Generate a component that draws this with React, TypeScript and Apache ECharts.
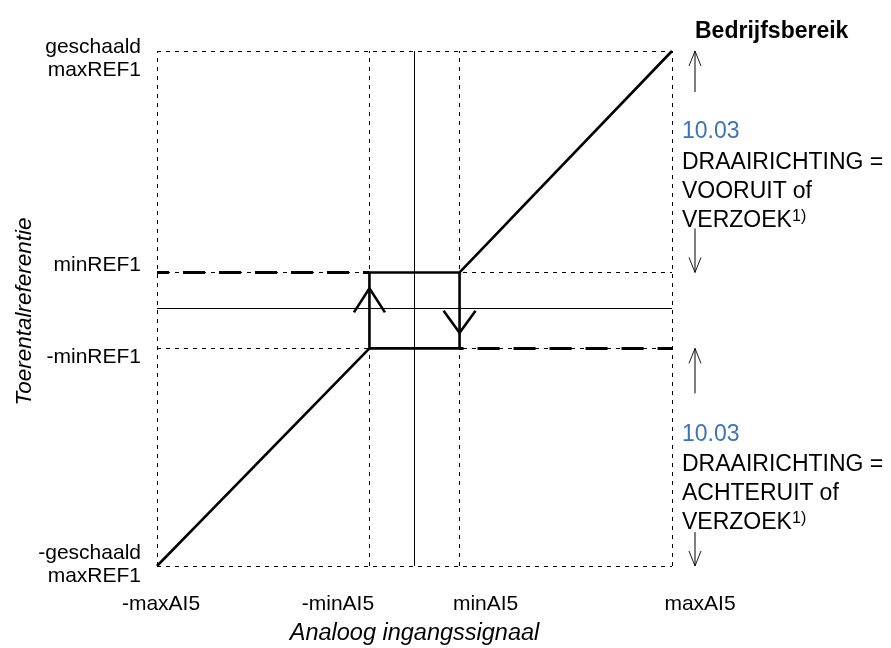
import React, { useEffect, useRef } from 'react';
import * as echarts from 'echarts';

// ---- data (normalised units: ±100 = maxAI5 / geschaald maxREF1) ----
const xTickValues = [-100, -17.5, 17.5, 100];
const xTickLabels = ['-maxAI5', '-minAI5', 'minAI5', 'maxAI5'];
const yTickValues = [-100, -15.5, 14, 100];
const yTickLabels = ['-geschaald\nmaxREF1', '-minREF1', 'minREF1', 'geschaald\nmaxREF1'];

// characteristic: upper branch (rising through the left of the hysteresis box)
const curveUpper = [[-100, -100], [-17.5, -15.5], [-17.5, 14], [17.5, 14], [100, 100]];
// characteristic: lower branch of the hysteresis box
const curveLower = [[17.5, 14], [17.5, -15.5], [-17.5, -15.5]];
// thick dashed continuation lines
const dashUpper = [[-100, 14], [-17.5, 14]];
const dashLower = [[17.5, -15.5], [100, -15.5]];
// direction arrows on the box edges (apex points)
const arrowUpApex = [-17.5, 7.8];
const arrowDownApex = [17.5, -9.4];

const annotationTop = ['10.03', 'DRAAIRICHTING =', 'VOORUIT of', 'VERZOEK'];
const annotationBottom = ['10.03', 'DRAAIRICHTING =', 'ACHTERUIT of', 'VERZOEK'];
const footnote = '1)';
const rangeTitle = 'Bedrijfsbereik';
const xAxisName = 'Analoog ingangssignaal';
const yAxisName = 'Toerentalreferentie';

// ---- layout (pixels) ----
const xLabelOffsets = [4, -31.5, 26, 28];
const yLabelOffsets = [-3, 7, -8.5, 6];
const topLinesY = [130, 161, 190, 219];
const bottomLinesY = [433, 463, 492, 521];

const FONT = '"Liberation Sans", Arial, Helvetica, sans-serif';
const BLUE = '#3b74ba';

export default function App() {
  const ref = useRef<HTMLDivElement>(null);
  useEffect(() => {
    const el = ref.current!;
    const chart = echarts.init(el, null, { renderer: 'svg' });
    const thin = { color: '#000', width: 1, type: [4, 5] as any };
    const solid = { color: '#000', width: 1, type: 'solid' as any };
    const axisCommon = {
      type: 'value' as const,
      min: -100,
      max: 100,
      axisLine: { show: false },
      axisTick: { show: false },
      axisLabel: { show: false },
      splitLine: { show: false },
    };
    const lineSeries = (data: number[][], lineStyle: any, z: number, extra: any = {}) => ({
      type: 'line',
      data,
      showSymbol: false,
      symbol: 'none',
      silent: true,
      z,
      lineStyle,
      ...extra,
    });
    chart.setOption({
      animation: false,
      grid: { left: 157, right: 219, top: 51, bottom: 82 },
      xAxis: axisCommon,
      yAxis: axisCommon,
      series: [
        lineSeries(curveUpper, { color: '#000', width: 2.6 }, 4, {
          markLine: {
            silent: true,
            symbol: ['none', 'none'],
            label: { show: false },
            z: 1,
            data: [
              ...xTickValues.map((v) => ({ xAxis: v, lineStyle: thin })),
              ...yTickValues.map((v) => ({ yAxis: v, lineStyle: thin })),
              { xAxis: 0, lineStyle: solid },
              { yAxis: 0, lineStyle: solid },
            ],
          },
        }),
        lineSeries(curveLower, { color: '#000', width: 2.6 }, 4),
        lineSeries(dashUpper, { color: '#000', width: 3, type: [22, 14], dashOffset: 10 }, 3),
        lineSeries(dashLower, { color: '#000', width: 3, type: [22, 14], dashOffset: 18 }, 3),
      ],
    });

    const px = (x: number, y: number) => chart.convertToPixel({ gridIndex: 0 }, [x, y]) as number[];
    const g: any[] = [];
    const txt = (x: number, y: number, text: string, style: any = {}) =>
      g.push({
        type: 'text',
        x,
        y,
        silent: true,
        style: {
          text,
          fontFamily: FONT,
          fontSize: 21,
          fill: '#000',
          align: 'center',
          verticalAlign: 'middle',
          ...style,
        },
      });

    // x tick labels
    xTickValues.forEach((v, i) => {
      const p = px(v, -100);
      txt(p[0] + xLabelOffsets[i], p[1] + 36, xTickLabels[i]);
    });
    // y tick labels
    yTickValues.forEach((v, i) => {
      const p = px(-100, v);
      txt(p[0] - 16, p[1] + yLabelOffsets[i], yTickLabels[i], { align: 'right', lineHeight: 23.5 });
    });
    // axis names
    const c = px(0, 0);
    const bl = px(-100, -100);
    txt(c[0], bl[1] + 66, xAxisName, { fontStyle: 'italic', fontSize: 23.5 });
    g.push({
      type: 'text',
      x: 23,
      y: c[1] + 3,
      rotation: Math.PI / 2,
      silent: true,
      style: {
        text: yAxisName,
        fontFamily: FONT,
        fontStyle: 'italic',
        fontSize: 22.5,
        fill: '#000',
        align: 'center',
        verticalAlign: 'middle',
      },
    });

    // arrows on box edges
    const up = px(arrowUpApex[0], arrowUpApex[1]);
    g.push({
      type: 'polyline',
      silent: true,
      shape: { points: [[up[0] - 15.5, up[1] + 24], [up[0], up[1]], [up[0] + 15.5, up[1] + 24]] },
      style: { stroke: '#000', lineWidth: 2.6, fill: null },
    });
    const dn = px(arrowDownApex[0], arrowDownApex[1]);
    g.push({
      type: 'polyline',
      silent: true,
      shape: { points: [[dn[0] - 16, dn[1] - 22], [dn[0], dn[1]], [dn[0] + 16, dn[1] - 22]] },
      style: { stroke: '#000', lineWidth: 2.6, fill: null },
    });

    // range arrows at the right
    const ax = px(100, 0)[0] + 23;
    const arrow = (yHead: number, yTail: number) => {
      const dir = yTail > yHead ? 1 : -1;
      g.push({
        type: 'line',
        silent: true,
        shape: { x1: ax, y1: yHead, x2: ax, y2: yTail },
        style: { stroke: '#000', lineWidth: 1 },
      });
      g.push({
        type: 'polyline',
        silent: true,
        shape: { points: [[ax - 6, yHead + dir * 15], [ax, yHead], [ax + 6, yHead + dir * 15]] },
        style: { stroke: '#000', lineWidth: 0.9, fill: null },
      });
    };
    const yTop = px(0, 100)[1];
    const yMinP = px(0, 14)[1];
    const yMinN = px(0, -15.5)[1];
    const yBot = px(0, -100)[1];
    arrow(yTop, yTop + 41);
    arrow(yMinP, yMinP - 44);
    arrow(yMinN, yMinN + 45);
    arrow(yBot, yBot - 34);

    // right texts
    txt(695, 30, rangeTitle, { fontWeight: 'bold', fontSize: 23, align: 'left' });
    const tx = px(100, 0)[0] + 10;
    const group = (lines: string[], ys: number[]) => {
      lines.forEach((t, i) => {
        const isFirst = i === 0;
        txt(tx, ys[i], t, { fontSize: 23, fill: isFirst ? BLUE : '#000', align: 'left' });
        if (i === lines.length - 1) {
          txt(tx + 110, ys[i] - 4, footnote, { fontSize: 16, align: 'left' });
        }
      });
    };
    group(annotationTop, topLinesY);
    group(annotationBottom, bottomLinesY);

    chart.setOption({ graphic: g });
    return () => chart.dispose();
  }, []);
  return <div ref={ref} style={{ position: 'fixed', left: 0, top: 0, width: 891, height: 648 }} />;
}
